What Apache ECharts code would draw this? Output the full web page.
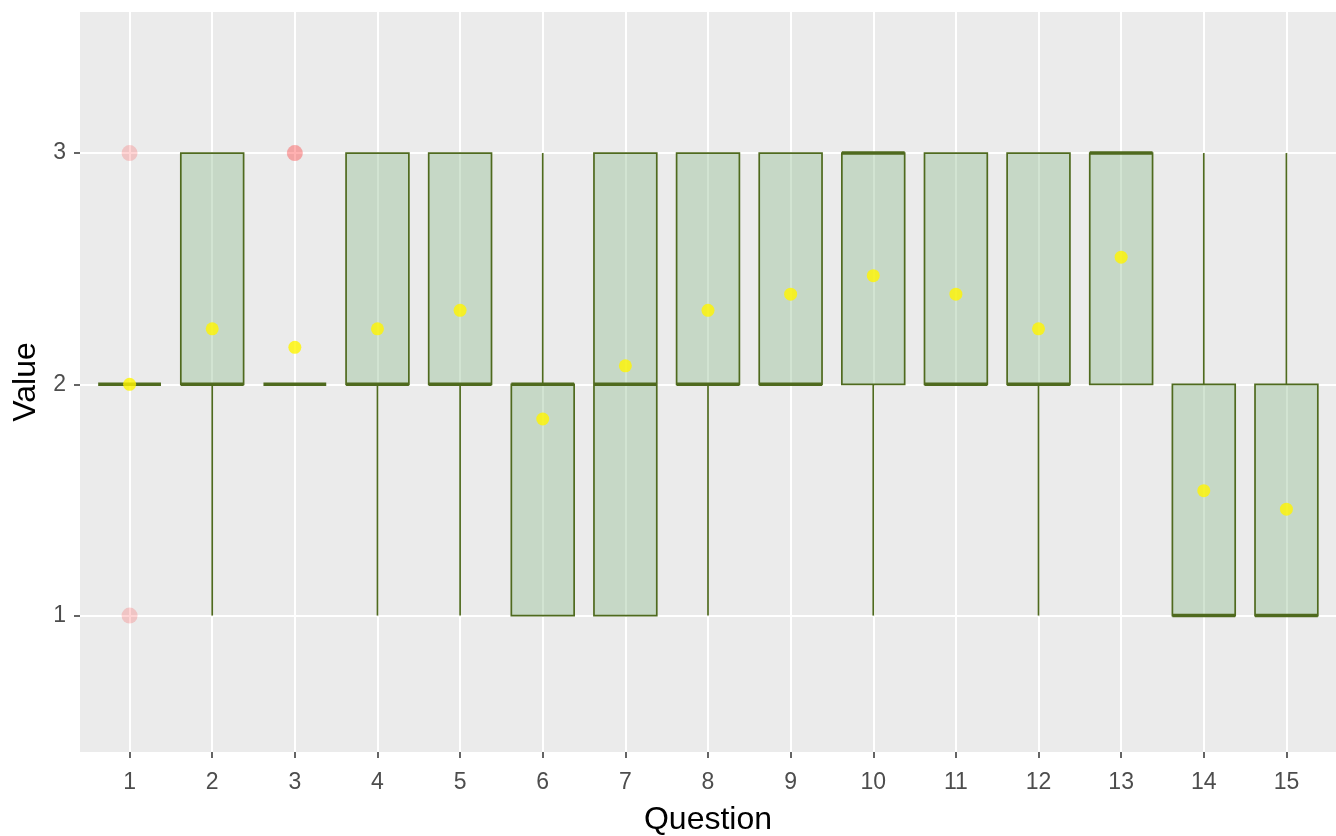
<!DOCTYPE html>
<html>
<head>
<meta charset="utf-8">
<script src="https://cdn.jsdelivr.net/npm/echarts@6/dist/echarts.min.js"></script>
<style>
html,body{margin:0;padding:0;background:#fff;}
#chart{width:1336px;height:836px;}
</style>
</head>
<body>
<div id="chart"></div>
<script>
// ---- data ----
const questions = [1, 2, 3, 4, 5, 6, 7, 8, 9, 10, 11, 12, 13, 14, 15];
const whiskerLow  = [2, 1, 2, 1, 1, 1, 1, 1, 2, 1, 2, 1, 2, 1, 1];
const q1Values    = [2, 2, 2, 2, 2, 1, 1, 2, 2, 2, 2, 2, 2, 1, 1];
const medians     = [2, 2, 2, 2, 2, 2, 2, 2, 2, 3, 2, 2, 3, 1, 1];
const q3Values    = [2, 3, 2, 3, 3, 2, 3, 3, 3, 3, 3, 3, 3, 2, 2];
const whiskerHigh = [2, 3, 2, 3, 3, 3, 3, 3, 3, 3, 3, 3, 3, 3, 3];
const means       = [2.0, 2.24, 2.16, 2.24, 2.32, 1.85, 2.08, 2.32, 2.39, 2.47, 2.39, 2.24, 2.55, 1.54, 1.46];
const outlierQuestion = [1, 1, 3, 3];
const outlierValue    = [1, 3, 3, 3];
const yTicks = [1, 2, 3];

// ---- build ----
const boxRows = questions.map((q, i) => [q, whiskerLow[i], q1Values[i], medians[i], q3Values[i], whiskerHigh[i]]);
const meanRows = questions.map((q, i) => [q, means[i]]);
const outlierRows = outlierQuestion.map((q, i) => [q, outlierValue[i]]);

const STROKE = '#4f6a1e';
const FILL = 'rgba(143,188,143,0.4)';
const BOX_WIDTH = 0.76;

function renderBox(params, api) {
  const x = api.value(0);
  const lo = api.value(1), q1 = api.value(2), med = api.value(3), q3 = api.value(4), hi = api.value(5);
  const hw = api.size([BOX_WIDTH, 0])[0] / 2;
  const pMed = api.coord([x, med]);
  const cx = pMed[0];
  const yLo = api.coord([x, lo])[1];
  const yQ1 = api.coord([x, q1])[1];
  const yQ3 = api.coord([x, q3])[1];
  const yHi = api.coord([x, hi])[1];
  const children = [];
  if (lo < q1) children.push({type: 'line', shape: {x1: cx, y1: yQ1, x2: cx, y2: yLo}, style: {stroke: STROKE, lineWidth: 1.7}});
  if (hi > q3) children.push({type: 'line', shape: {x1: cx, y1: yQ3, x2: cx, y2: yHi}, style: {stroke: STROKE, lineWidth: 1.7}});
  if (q3 > q1) children.push({type: 'rect', shape: {x: cx - hw, y: yQ3, width: 2 * hw, height: yQ1 - yQ3}, style: {fill: FILL, stroke: STROKE, lineWidth: 1.7}});
  children.push({type: 'line', shape: {x1: cx - hw, y1: pMed[1], x2: cx + hw, y2: pMed[1]}, style: {stroke: STROKE, lineWidth: 3.5}});
  return {type: 'group', children: children};
}

const chart = echarts.init(document.getElementById('chart'), null, {renderer: 'canvas'});
chart.setOption({
  backgroundColor: '#ffffff',
  animation: false,
  textStyle: {fontFamily: 'Liberation Sans, Arial, sans-serif'},
  grid: {left: 80, right: 0, top: 12, bottom: 84, show: true, backgroundColor: '#ebebeb', borderWidth: 0,
         containLabel: false, outerBoundsMode: 'none'},
  xAxis: {
    type: 'value', min: 0.4, max: 15.6,
    name: 'Question', nameLocation: 'middle', nameGap: 52,
    nameTextStyle: {fontSize: 32, color: '#000'},
    axisLine: {show: false},
    axisTick: {show: true, length: 6, lineStyle: {color: '#333', width: 1.5}, customValues: questions},
    axisLabel: {fontSize: 23, color: '#4d4d4d', margin: 19, customValues: questions, formatter: v => String(v)},
    splitLine: {show: true, lineStyle: {color: '#ffffff', width: 2}}
  },
  yAxis: {
    type: 'value', min: 0.41, max: 3.61,
    name: 'Value', nameLocation: 'middle', nameGap: 38,
    nameTextStyle: {fontSize: 32, color: '#000'},
    axisLine: {show: false},
    axisTick: {show: true, length: 6, lineStyle: {color: '#333', width: 1.5}, customValues: yTicks},
    axisLabel: {fontSize: 23, color: '#4d4d4d', margin: 14, customValues: yTicks, formatter: v => String(v)},
    splitLine: {show: true, lineStyle: {color: '#ffffff', width: 2}}
  },
  series: [
    {type: 'custom', renderItem: renderBox, data: boxRows, encode: {x: 0, y: [1, 2, 3, 4, 5]}, z: 2},
    {type: 'scatter', data: outlierRows, symbolSize: 16, itemStyle: {color: 'rgba(255,40,40,0.25)'}, z: 3},
    {type: 'scatter', data: meanRows, symbolSize: 13, itemStyle: {color: '#fff500'}, z: 4}
  ]
});
</script>
</body>
</html>
